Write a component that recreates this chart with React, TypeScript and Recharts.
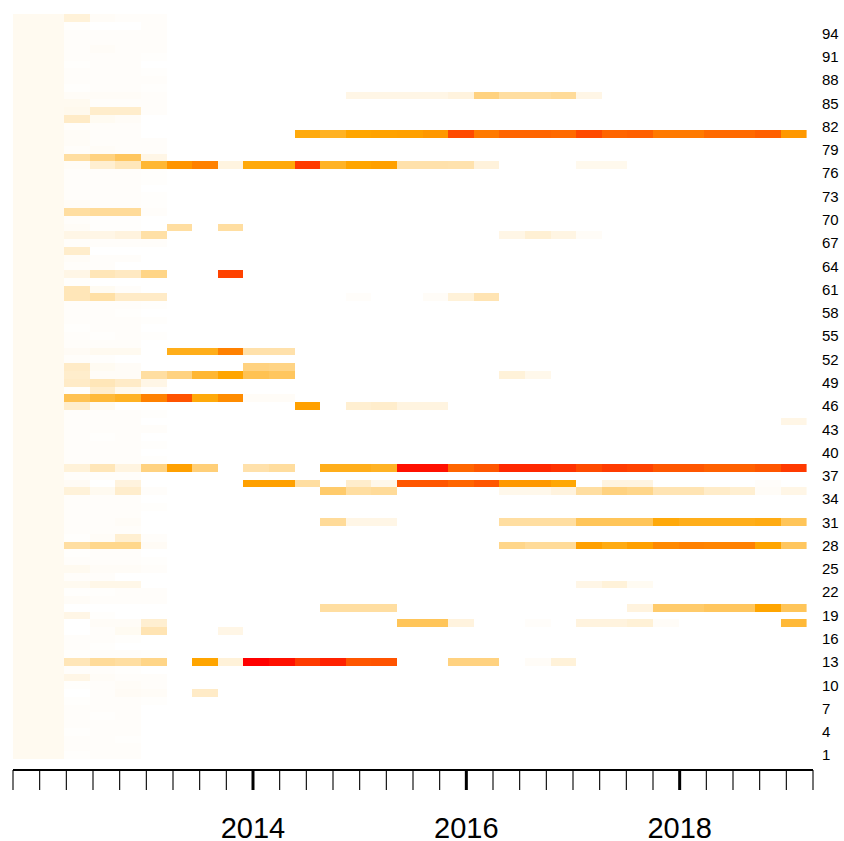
import { ScatterChart, Scatter, XAxis, YAxis } from 'recharts';

const FONT = '"Liberation Sans", Arial, Helvetica, sans-serif';

// layout
const CHART_W = 844;
const CHART_H = 841;
const PLOT_LEFT = 13;
const PLOT_RIGHT = 813;
const PLOT_TOP = 14;
const AXIS_Y = 770;
const CELL_BOTTOM = 759;
const CELL_PAD_RIGHT = 6.4;

const ROW_COUNT = 96;
const COL_UNITS = 31; // first column is two units wide
const UNIT_W = (PLOT_RIGHT - PLOT_LEFT - CELL_PAD_RIGHT) / COL_UNITS;
const UNIT_H = (CELL_BOTTOM - PLOT_TOP) / ROW_COUNT;

// level scale: 0 = white, 10 = orange, 20 = red
const FIRST_COL_LEVEL = 0.6;

// [row, first quarter column, levels...]
const runs: [number, number, number[]][] = [
  [96, 1, [1.5, 0.3, 0.2, 0.2]],
  [95, 1, [0.1, 0, 0, 0.2]],
  [94, 1, [0.2, 0.2, 0.2, 0.2]],
  [93, 1, [0.2, 0.2, 0.2, 0.2]],
  [92, 1, [0.2, 0.3, 0.2, 0.2]],
  [91, 1, [0.2, 0.2, 0.2, 0.1]],
  [90, 1, [0.1, 0.2, 0.2]],
  [89, 1, [0.2, 0.2, 0.2, 0.1]],
  [88, 1, [0.2, 0.2, 0.2, 0.2]],
  [87, 1, [0.1, 0.2, 0.2, 0.1]],
  [86, 1, [0.3, 0.3, 0.3, 0.2]],
  [86, 12, [1, 1, 1, 1, 1.3, 5, 3.7, 3.7, 4, 1]],
  [85, 1, [0.6, 0.2, 0.2, 0.2]],
  [84, 1, [0.7, 2, 2, 0.2]],
  [83, 1, [2.2, 0.5, 0.3]],
  [82, 1, [0.2, 0.2, 0.2]],
  [81, 1, [0.3, 0.2, 0.2]],
  [81, 10, [9.5, 8.6, 10, 10.2, 10.3, 10.8, 15.5, 12.6, 13.9, 13.9, 13.6, 15.5, 13.9, 14.2, 12.6, 12.6, 13.6, 13.6, 14.2, 10.8]],
  [80, 1, [0.3, 0.2, 0.2, 0.2]],
  [79, 1, [0.2, 0.3, 0.2, 0.2]],
  [78, 1, [3.7, 5, 6.3, 1]],
  [77, 1, [0.3, 1.8, 2.7, 8, 11, 12.2, 1.2, 9.6, 9.6, 16.5, 8.5, 10, 10.3, 3.3, 3.3, 3.2, 1.4]],
  [77, 21, [0.7, 0.7]],
  [76, 1, [0.2, 0.2, 0.2, 0.1]],
  [75, 1, [0.2, 0.2, 0.2, 0.1]],
  [74, 1, [0.2, 0.2, 0.2]],
  [73, 1, [0.2, 0.2, 0.2, 0.1]],
  [72, 1, [0.3, 0.2, 0.2, 0.1]],
  [71, 1, [3.7, 4, 4, 0.2]],
  [70, 1, [0.2, 0.1, 0.1]],
  [69, 1, [0.3, 0.1, 0.1, 0, 3.7, 0, 3.7]],
  [68, 1, [1, 1, 1.3, 3.5]],
  [68, 18, [1, 1.7, 1.1, 0.3]],
  [67, 1, [0.2, 0.2, 0.2, 0.2]],
  [66, 1, [2]],
  [65, 1, [0.3, 0.2, 0.2]],
  [64, 1, [0.2, 0.2]],
  [63, 1, [1, 2.8, 2.4, 4.7, 0, 0, 16]],
  [62, 1, [0.1]],
  [61, 1, [2.8, 0.5, 0.2]],
  [60, 1, [2.8, 3.5, 2.2, 2.2]],
  [60, 12, [0.2]],
  [60, 15, [0.3, 1.5, 3]],
  [59, 1, [0.2, 0.2, 0.2, 0.1]],
  [58, 1, [0.2, 0.2, 0.1]],
  [57, 1, [0.2, 0.2, 0.2, 0.1]],
  [56, 1, [0.1, 0.2, 0.2]],
  [55, 1, [0.2, 0.1, 0.2, 0.1]],
  [54, 1, [0.2, 0.2, 0.2]],
  [53, 1, [0.4, 0.6, 0.6, 0, 9, 9, 12.2, 3.3, 3.3]],
  [52, 1, [0.2, 0.1]],
  [51, 1, [2.2, 0.5, 0.3, 0, 0, 0, 0, 5, 4.8]],
  [50, 1, [2, 0.3, 0.3, 3.7, 5, 8, 10, 6.8, 6.3]],
  [50, 18, [1.5, 0.8]],
  [49, 1, [2.2, 2.8, 2.2, 1]],
  [48, 1, [0.1, 2, 0.7, 0.2]],
  [47, 1, [6.8, 7.8, 8.6, 12.2, 15, 9.6, 11.5, 0.3, 0.3]],
  [46, 1, [2, 0.5]],
  [46, 10, [10.3, 0, 1.8, 2, 1.2, 1.2]],
  [45, 1, [0.2, 0.2, 0.2, 0.1]],
  [44, 1, [0.2, 0.2, 0.2]],
  [44, 29, [1]],
  [43, 1, [0.2, 0.2, 0.2, 0.2]],
  [42, 1, [0.2, 0.1, 0.2]],
  [41, 1, [0.2, 0.2, 0.2, 0.1]],
  [40, 1, [0.2, 0.2, 0.2]],
  [39, 1, [0.2, 0.2, 0.2, 0.1]],
  [38, 1, [1.5, 2.8, 1.2, 5, 10.3, 5.3, 0, 3.3, 3.8, 0, 9, 9, 8.6, 19, 19, 13.9, 14.8, 17.6, 17.6, 17, 15.5, 16.4, 16, 14.8, 14.8, 14.2, 14.2, 14.8, 16.5]],
  [37, 1, [0.2, 0.2, 0.2]],
  [36, 1, [0.4, 0, 1.3, 0, 0, 0, 0, 10.3, 10.3, 3.7, 0, 2, 0.8, 14.8, 14.8, 13.9, 14.8, 10.8, 10.8, 9.8, 0, 1.2, 1.2, 0, 0, 0, 0, 0.2]],
  [35, 1, [1.5, 0.6, 2, 0.2, 0, 0, 0, 0, 0, 0, 5.8, 3.7, 4, 0, 0, 0, 0, 0.8, 0.8, 1.3, 3.7, 5, 4.6, 3, 3, 2.1, 1.8, 0.3, 1]],
  [34, 1, [0.2, 0.2, 0.2]],
  [33, 1, [0.2, 0.2, 0.2, 0.1]],
  [32, 1, [0.2, 0.2, 0.2]],
  [31, 1, [0.2, 0.2, 0.3]],
  [31, 11, [4, 1, 1]],
  [31, 18, [3.7, 3.7, 3.7, 6.5, 6.5, 6.5, 9.6, 9, 9, 9, 9.3, 6.5]],
  [30, 1, [0.2, 0.2, 0.2]],
  [29, 1, [0.1, 0.3, 1.8, 0.2]],
  [28, 1, [3.7, 4.5, 4.5, 0.4]],
  [28, 18, [4.6, 4, 4, 10.3, 9.3, 10.3, 11.7, 12.2, 12, 12.2, 10, 6.3]],
  [27, 1, [0.1, 0.2, 0.2]],
  [26, 1, [0.2, 0.2, 0.2, 0.1]],
  [25, 1, [0.6, 0.3, 0.3, 0.2]],
  [24, 1, [0.2, 0.2]],
  [23, 1, [0.6, 0.9, 0.9]],
  [23, 21, [1, 1.5, 0.5]],
  [22, 1, [0.1, 0.1, 0.2, 0.2]],
  [21, 1, [0.3, 0.2, 0.2, 0.2]],
  [20, 11, [3.7, 3.7, 3.7]],
  [20, 23, [1.3, 5.8, 5.8, 6.3, 6.3, 10, 6.5]],
  [19, 1, [1, 0.1]],
  [18, 2, [0.3, 0.3, 1.8]],
  [18, 14, [6.5, 6.5, 1.3, 0, 0, 0.2, 0, 1.3, 1.3, 1.6, 0.3, 0, 0, 0, 0, 7.8]],
  [17, 1, [0, 0.2, 0.5, 3, 0, 0, 1]],
  [16, 1, [0.2, 0.2, 0.1]],
  [15, 1, [0.2, 0.1]],
  [14, 1, [0.1, 0.2, 0.2, 0.1]],
  [13, 1, [2.8, 4, 3.7, 4.7, 0, 10, 1.5, 20, 19, 16.5, 18, 14.8, 15, 0, 0, 5, 5, 0, 0.3, 1.5]],
  [12, 1, [0.2, 0.2, 0.1]],
  [11, 1, [1, 0.3, 0.2, 0.2]],
  [10, 1, [0.1, 0.2, 0.3, 0.2]],
  [9, 1, [0, 0.2, 0.4, 0.3, 0, 2.2]],
  [8, 1, [0.1, 0.2, 0.2, 0.1]],
  [7, 1, [0.2, 0.2, 0.2]],
  [6, 1, [0.2, 0.1, 0.2]],
  [5, 1, [0.2, 0.2, 0.2]],
  [4, 1, [0.1, 0.2, 0.2]],
  [3, 1, [0.2, 0.2, 0.1]],
  [2, 1, [0.2, 0.2, 0.2]],
  [1, 1, [0.1, 0.2, 0.2]],
];

const rowTicks = [1, 4, 7, 10, 13, 16, 19, 22, 25, 28, 31, 34, 37, 40, 43, 46, 49, 52, 55, 58, 61, 64, 67, 70, 73, 76, 79, 82, 85, 88, 91, 94];
const quarterTicks = Array.from({ length: 31 }, (_, i) => i);
const yearTicks = [9, 17, 25];
const yearLabels = ['2014', '2016', '2018'];

type Cell = { x: number; y: number; w: number; v: number };

const cells: Cell[] = [];
for (let r = 1; r <= ROW_COUNT; r++) {
  cells.push({ x: 1, y: r, w: 2, v: FIRST_COL_LEVEL });
}
runs.forEach(([row, start, levels]) => {
  levels.forEach((v, i) => {
    if (v > 0) cells.push({ x: start + i + 1.5, y: row, w: 1, v });
  });
});

const timeRange = [{ t: 0, y: 1 }, { t: 30, y: 1 }];

const heat = (v: number) => {
  let g: number;
  let b: number;
  if (v <= 10) {
    const t = v / 10;
    g = 255 - 90 * t;
    b = 255 - 255 * t;
  } else {
    const t = Math.min(1, (v - 10) / 10);
    g = 165 * (1 - t);
    b = 0;
  }
  return `rgb(255,${Math.round(g)},${Math.round(b)})`;
};

const CellShape = (props: any) => {
  const { cx, cy, payload } = props;
  const w = payload.w * UNIT_W;
  return (
    <rect
      x={cx - w / 2}
      y={cy - UNIT_H / 2}
      width={w}
      height={UNIT_H}
      fill={heat(payload.v)}
      shapeRendering="crispEdges"
    />
  );
};

const QuarterTick = (props: any) => {
  const { x, y, payload } = props;
  const idx = yearTicks.indexOf(payload.value);
  const major = idx >= 0;
  return (
    <g>
      <line x1={x} x2={x} y1={y} y2={y + 20} stroke="#000" strokeWidth={major ? 3 : 1.1} />
      {major && (
        <text x={x} y={y + 68} textAnchor="middle" fontSize={29} fontFamily={FONT} fill="#000">
          {yearLabels[idx]}
        </text>
      )}
    </g>
  );
};

const App = () => {
  return (
    <div style={{ position: 'absolute', left: 0, top: 0, background: '#fff' }}>
      <ScatterChart
        width={CHART_W}
        height={CHART_H}
        margin={{ top: PLOT_TOP, right: 0, bottom: 0, left: PLOT_LEFT }}
      >
        <XAxis
          xAxisId="cell"
          dataKey="x"
          type="number"
          domain={[0, COL_UNITS]}
          padding={{ left: 0, right: CELL_PAD_RIGHT }}
          height={0}
          allowDataOverflow
          hide
        />
        <XAxis
          xAxisId="time"
          dataKey="t"
          type="number"
          domain={[0, 30]}
          ticks={quarterTicks}
          interval={0}
          height={CHART_H - AXIS_Y}
          tickSize={0}
          tickMargin={0}
          tickLine={false}
          axisLine={{ stroke: '#000', strokeWidth: 2 }}
          tick={<QuarterTick />}
          allowDataOverflow
        />
        <YAxis
          dataKey="y"
          type="number"
          orientation="right"
          domain={[0.5, ROW_COUNT + 0.5]}
          padding={{ top: 0, bottom: AXIS_Y - CELL_BOTTOM }}
          ticks={rowTicks}
          interval={0}
          width={CHART_W - PLOT_RIGHT}
          axisLine={false}
          tickLine={false}
          tickSize={0}
          tickMargin={9}
          tick={{ fill: '#000', fontSize: 15, fontFamily: FONT }}
          allowDataOverflow
        />
        <Scatter
          data={cells}
          xAxisId="cell"
          shape={<CellShape />}
          isAnimationActive={false}
        />
        <Scatter
          data={timeRange}
          xAxisId="time"
          shape={() => <g />}
          isAnimationActive={false}
        />
      </ScatterChart>
    </div>
  );
};

export default App;
